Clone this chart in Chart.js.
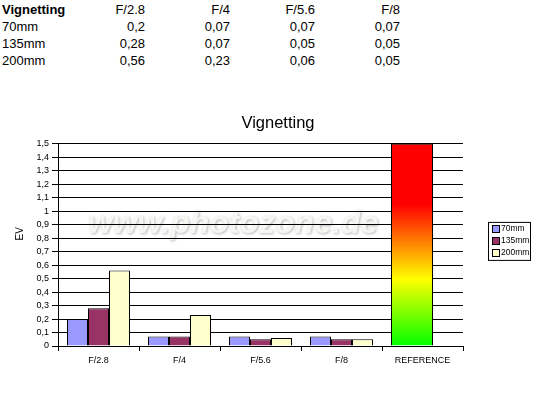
<!DOCTYPE html>
<html>
<head>
<meta charset="utf-8">
<script src="https://cdn.jsdelivr.net/npm/chart.js@4.4.1/dist/chart.umd.min.js"></script>
<style>
  html, body { margin: 0; padding: 0; background: #fff; }
  body { width: 556px; height: 393px; position: relative; overflow: hidden; font-family: "Liberation Sans", Arial, sans-serif; }
  .cell { position: absolute; font-size: 13px; line-height: 17px; color: #000; white-space: nowrap; }
  .num { text-align: right; width: 60px; }
  #wrap { position: absolute; left: 0; top: 100px; width: 556px; height: 293px; }
</style>
</head>
<body>
<div id="table"></div>
<div id="wrap"><canvas id="chart" width="556" height="293"></canvas></div>
<script>
// Data
const apertures = ['F/2.8', 'F/4', 'F/5.6', 'F/8'];
const referenceLabel = 'REFERENCE';
const referenceLevel = 1.5;
const focalLengths = ['70mm', '135mm', '200mm'];
const ev70 = [0.2, 0.07, 0.07, 0.07];
const ev135 = [0.28, 0.07, 0.05, 0.05];
const ev200 = [0.56, 0.23, 0.06, 0.05];
const yTicks = [0, 0.1, 0.2, 0.3, 0.4, 0.5, 0.6, 0.7, 0.8, 0.9, 1, 1.1, 1.2, 1.3, 1.4, 1.5];

const comma = (v) => String(Math.round(v * 100) / 100).replace('.', ',');

// top table
const table = document.getElementById('table');
const rows = [ev70, ev135, ev200];
function addCell(text, left, top, cls, bold) {
  const d = document.createElement('div');
  d.className = 'cell ' + (cls || '');
  d.textContent = text;
  d.style.left = left + 'px';
  d.style.top = top + 'px';
  if (bold) d.style.fontWeight = 'bold';
  table.appendChild(d);
}
addCell('Vignetting', 2, 1, '', true);
apertures.forEach((a, i) => addCell(a, 85 + i * 85, 1, 'num'));
rows.forEach((r, j) => {
  addCell(focalLengths[j], 2, 18 + j * 17);
  r.forEach((v, i) => addCell(comma(v), 85 + i * 85, 18 + j * 17, 'num'));
});

// green -> yellow -> red fill for the reference bar
function refGradient(chart) {
  const y = chart.scales.y;
  if (!y || !chart.chartArea) return null;
  const g = chart.ctx.createLinearGradient(0, y.getPixelForValue(referenceLevel), 0, y.getPixelForValue(0));
  g.addColorStop(0, '#FF0000');
  g.addColorStop(0.3, '#FF0000');
  g.addColorStop(0.67, '#FFFF00');
  g.addColorStop(1, '#00FF00');
  return g;
}
const refIndex = apertures.length;
const fill = (color) => (ctx) => (ctx.dataIndex === refIndex ? (refGradient(ctx.chart) || color) : color);

const watermark = {
  id: 'watermark',
  beforeDraw(chart) {
    const ctx = chart.ctx;
    ctx.save();
    ctx.font = 'italic bold 32px "Liberation Sans"';
    ctx.textAlign = 'center';
    ctx.textBaseline = 'alphabetic';
    ctx.shadowColor = 'rgba(0,0,0,0.28)';
    ctx.shadowBlur = 3;
    ctx.shadowOffsetX = 1;
    ctx.shadowOffsetY = 1;
    ctx.fillStyle = '#f6f6f2';
    ctx.fillText('www.photozone.de', 233, 133);
    ctx.restore();
  }
};

const boxLegend = {
  id: 'boxLegend',
  afterDraw(chart) {
    const ctx = chart.ctx;
    const a = chart.chartArea;
    const x = a.right + 25, y = (a.top + a.bottom) / 2 - 23;
    const w = 42, h = 38;
    ctx.save();
    ctx.strokeStyle = '#000';
    ctx.lineWidth = 1;
    ctx.strokeRect(x + 0.5, y + 0.5, w, h);
    ctx.font = '8.5px "Liberation Sans"';
    ctx.textBaseline = 'middle';
    chart.data.datasets.forEach((ds, i) => {
      const cy = y + 7 + i * 11.7;
      ctx.fillStyle = ds.legendColor;
      ctx.fillRect(x + 4, Math.round(cy - 3.5), 7, 7);
      ctx.strokeRect(x + 4.5, Math.round(cy - 3.5) + 0.5, 7, 7);
      ctx.fillStyle = '#000';
      ctx.fillText(ds.label, x + 13, cy);
    });
    ctx.restore();
  }
};

const colors = ['#9999FF', '#993366', '#FFFFCC'];
const datasets = [
  { label: focalLengths[0], data: [...ev70, referenceLevel], legendColor: colors[0],
    backgroundColor: fill(colors[0]),
    borderWidth: (c) => (c.dataIndex === refIndex ? { top: 1, left: 1, right: 0, bottom: 0 } : 1) },
  { label: focalLengths[1], data: [...ev135, referenceLevel], legendColor: colors[1],
    backgroundColor: fill(colors[1]),
    borderWidth: (c) => (c.dataIndex === refIndex ? { top: 1, left: 0, right: 1, bottom: 0 } : 1) },
  { label: focalLengths[2], data: [...ev200, null], legendColor: colors[2],
    backgroundColor: colors[2], borderWidth: 1 }
].map((d) => Object.assign(d, { borderColor: '#000', categoryPercentage: 63 / 81, barPercentage: 1 }));

new Chart(document.getElementById('chart'), {
  type: 'bar',
  data: { labels: [...apertures, referenceLabel], datasets },
  options: {
    responsive: false,
    animation: false,
    layout: { padding: { left: 10, right: 10, top: 14, bottom: 0 } },
    plugins: {
      legend: { display: false },
      tooltip: { enabled: false },
      title: {
        display: true, text: 'Vignetting', color: '#000',
        font: { family: 'Liberation Sans', size: 16.5, weight: 'normal' },
        padding: { top: 0, bottom: 10 }
      }
    },
    scales: {
      x: {
        afterFit: (s) => { s.height = 47; },
        grid: { drawOnChartArea: false, color: '#000', tickLength: 5, offset: true },
        border: { color: '#000' },
        ticks: { color: '#000', padding: 4, font: { family: 'Liberation Sans', size: 9 } }
      },
      y: {
        min: 0, max: 1.5,
        afterFit: (s) => { s.width = 48; },
        afterBuildTicks: (s) => { s.ticks = yTicks.map((v) => ({ value: v })); },
        grid: { color: '#000', tickLength: 6 },
        border: { color: '#000' },
        ticks: { color: '#000', padding: 3, autoSkip: false, font: { family: 'Liberation Sans', size: 9 }, callback: (v) => comma(v) },
        title: {
          display: true, text: '        EV', color: '#000',
          font: { family: 'Liberation Sans', size: 10 }, padding: { top: 4, bottom: 0 }
        }
      },
      // empty right-hand strip that holds the legend box
      legendSpace: {
        position: 'right', type: 'linear', display: true,
        afterFit: (s) => { s.width = 83; },
        grid: { display: false }, border: { display: false }, ticks: { display: false }
      }
    }
  },
  plugins: [watermark, boxLegend]
});
</script>
</body>
</html>
